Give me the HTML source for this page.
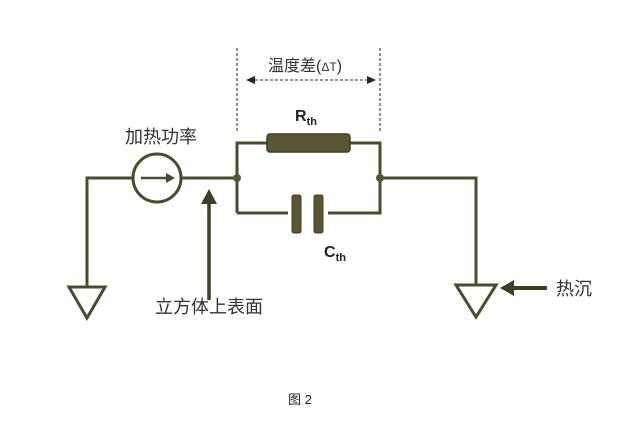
<!DOCTYPE html>
<html><head><meta charset="utf-8"><style>
html,body{margin:0;padding:0;background:#fff;}
svg{display:block;}
text{font-family:"Liberation Sans","Noto Sans CJK SC",sans-serif;}
</style></head><body>
<svg width="626" height="428" viewBox="0 0 626 428" xmlns="http://www.w3.org/2000/svg">
<g stroke="#4b4a2c" stroke-width="3" fill="none">
<polyline points="87,287 87,178 132,178"/>
<polygon points="69,287 105,287 87,318" fill="#fff"/>
<circle cx="157" cy="178" r="24" fill="#fff"/>
<line x1="182" y1="178" x2="237" y2="178"/>
<polyline points="237,213 237,143 380,143 380,213 237,213"/>
<polyline points="380,178 476,178 476,285"/>
<polygon points="456,285 496,285 476,317" fill="#fff"/>
</g>
<line x1="141" y1="178" x2="168" y2="178" stroke="#4b4a2c" stroke-width="2.5"/>
<path d="M166,173 L175,178 L166,183 z" fill="#4b4a2c"/>
<rect x="267" y="134" width="83" height="18" rx="3" fill="#5a5632" stroke="#3f3d22" stroke-width="1.5"/>
<rect x="288" y="200" width="40" height="26" fill="#fff"/>
<rect x="292" y="195" width="9" height="38" rx="2" fill="#5a5632" stroke="#3f3d22"/>
<rect x="314" y="195" width="9" height="38" rx="2" fill="#5a5632" stroke="#3f3d22"/>
<circle cx="237" cy="178" r="4" fill="#5a5632"/>
<circle cx="380" cy="178" r="4" fill="#5a5632"/>
<g stroke="#555" stroke-width="1.3" stroke-dasharray="3,2">
<line x1="237" y1="48" x2="237" y2="133"/>
<line x1="380" y1="48" x2="380" y2="133"/>
<line x1="250" y1="80" x2="368" y2="80"/>
</g>
<path d="M246,80 L255,76 L255,84 z" fill="#222"/>
<path d="M376,80 L367,76 L367,84 z" fill="#222"/>
<line x1="209" y1="300" x2="209" y2="202" stroke="#3f3d22" stroke-width="3.5"/>
<path d="M201,204 L209,189 L217,204 z" fill="#3f3d22"/>
<line x1="547" y1="288" x2="512" y2="288" stroke="#3f3d22" stroke-width="4"/>
<path d="M514,280 L500,288 L514,296 z" fill="#3f3d22"/>
<text x="305" y="71" font-size="16" fill="#333" text-anchor="middle">温度差(<tspan font-size="12">ΔT</tspan>)</text>
<text x="306" y="121" font-size="16" font-weight="bold" fill="#222" text-anchor="middle">R<tspan font-size="11" dy="4">th</tspan></text>
<text x="335" y="257" font-size="16" font-weight="bold" fill="#222" text-anchor="middle">C<tspan font-size="11" dy="4">th</tspan></text>
<text x="161" y="143" font-size="18" fill="#333" text-anchor="middle">加热功率</text>
<text x="209" y="313" font-size="18" fill="#333" text-anchor="middle">立方体上表面</text>
<text x="556" y="295" font-size="18" fill="#333">热沉</text>
<text x="300" y="404" font-size="13" fill="#222" text-anchor="middle">图 2</text>
</svg>
</body></html>
